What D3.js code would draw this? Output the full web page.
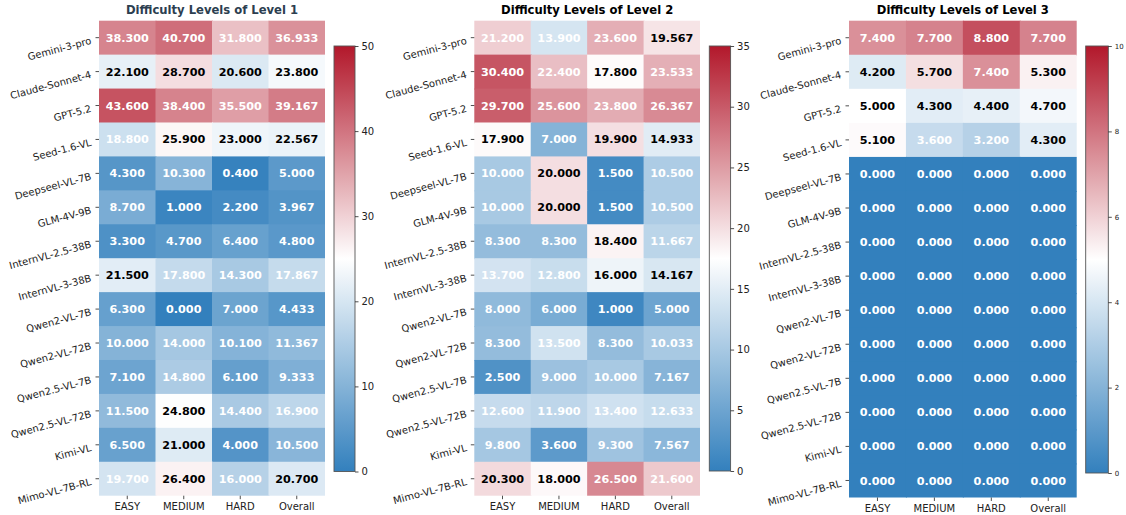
<!DOCTYPE html>
<html>
<head>
<meta charset="utf-8">
<script src="https://cdn.jsdelivr.net/npm/d3@7"></script>
<style>
  html, body { margin: 0; padding: 0; background: #ffffff; }
  svg { display: block; }
  text { font-family: "DejaVu Sans", sans-serif; }
</style>
</head>
<body>
<svg id="chart" width="1126" height="515"></svg>
<script>
// ---------- DATA ----------
const models = ["Gemini-3-pro", "Claude-Sonnet-4", "GPT-5.2", "Seed-1.6-VL", "Deepseel-VL-7B",
  "GLM-4V-9B", "InternVL-2.5-38B", "InternVL-3-38B", "Qwen2-VL-7B", "Qwen2-VL-72B",
  "Qwen2.5-VL-7B", "Qwen2.5-VL-72B", "Kimi-VL", "Mimo-VL-7B-RL"];
const difficulties = ["EASY", "MEDIUM", "HARD", "Overall"];

const level1 = [
  [38.3, 40.7, 31.8, 36.933],
  [22.1, 28.7, 20.6, 23.8],
  [43.6, 38.4, 35.5, 39.167],
  [18.8, 25.9, 23.0, 22.567],
  [4.3, 10.3, 0.4, 5.0],
  [8.7, 1.0, 2.2, 3.967],
  [3.3, 4.7, 6.4, 4.8],
  [21.5, 17.8, 14.3, 17.867],
  [6.3, 0.0, 7.0, 4.433],
  [10.0, 14.0, 10.1, 11.367],
  [7.1, 14.8, 6.1, 9.333],
  [11.5, 24.8, 14.4, 16.9],
  [6.5, 21.0, 4.0, 10.5],
  [19.7, 26.4, 16.0, 20.7]
];
const level2 = [
  [21.2, 13.9, 23.6, 19.567],
  [30.4, 22.4, 17.8, 23.533],
  [29.7, 25.6, 23.8, 26.367],
  [17.9, 7.0, 19.9, 14.933],
  [10.0, 20.0, 1.5, 10.5],
  [10.0, 20.0, 1.5, 10.5],
  [8.3, 8.3, 18.4, 11.667],
  [13.7, 12.8, 16.0, 14.167],
  [8.0, 6.0, 1.0, 5.0],
  [8.3, 13.5, 8.3, 10.033],
  [2.5, 9.0, 10.0, 7.167],
  [12.6, 11.9, 13.4, 12.633],
  [9.8, 3.6, 9.3, 7.567],
  [20.3, 18.0, 26.5, 21.6]
];
const level3 = [
  [7.4, 7.7, 8.8, 7.7],
  [4.2, 5.7, 7.4, 5.3],
  [5.0, 4.3, 4.4, 4.7],
  [5.1, 3.6, 3.2, 4.3],
  [0, 0, 0, 0],
  [0, 0, 0, 0],
  [0, 0, 0, 0],
  [0, 0, 0, 0],
  [0, 0, 0, 0],
  [0, 0, 0, 0],
  [0, 0, 0, 0],
  [0, 0, 0, 0],
  [0, 0, 0, 0],
  [0, 0, 0, 0]
];
const titles = ["Difficulty Levels of Level 1", "Difficulty Levels of Level 2", "Difficulty Levels of Level 3"];
const colorMax = [50, 35, 10];
const colorbarTicks = [
  [0, 10, 20, 30, 40, 50],
  [0, 5, 10, 15, 20, 25, 30, 35],
  [0, 2, 4, 6, 8, 10]
];

// ---------- LAYOUT / STYLE ----------
const layout = [
  { x0: 99, x1: 325, y0: 20.7, y1: 495.7, cbX: 334, cbW: 21, cbY0: 46, cbY1: 471.5, cbFont: 10, titleColor: "#2c3e50" },
  { x0: 474.3, x1: 700, y0: 20.7, y1: 495.7, cbX: 709.3, cbW: 21.3, cbY0: 46, cbY1: 471, cbFont: 10, titleColor: "#000000" },
  { x0: 849, x1: 1076.7, y0: 20.7, y1: 497.5, cbX: 1085.7, cbW: 22.6, cbY0: 46, cbY1: 473, cbFont: 7, titleColor: "#000000" }
];
const colorLow = "#3380bd", colorMid = "#ffffff", colorHigh = "#b2182b";
const datasets = [level1, level2, level3];

const svg = d3.select("#chart");
const defs = svg.append("defs");

datasets.forEach((data, p) => {
  const L = layout[p];
  const vmax = colorMax[p];
  const color = d3.scaleLinear().domain([0, vmax / 2, vmax]).range([colorLow, colorMid, colorHigh]).interpolate(d3.interpolateRgb).clamp(true);

  const x = d3.scaleBand().domain(difficulties).range([L.x0, L.x1]).padding(0);
  const y = d3.scaleBand().domain(models).range([L.y0, L.y1]).padding(0);

  const g = svg.append("g");

  const cells = [];
  data.forEach((row, i) => row.forEach((v, j) => cells.push({ m: models[i], d: difficulties[j], i, j, v })));

  g.selectAll("rect.cell").data(cells).join("rect")
    .attr("class", "cell")
    .attr("x", d => x(d.d))
    .attr("y", d => y(d.m))
    .attr("width", d => x.bandwidth() + (d.j < difficulties.length - 1 ? 1 : 0))
    .attr("height", d => y.bandwidth() + (d.i < models.length - 1 ? 1 : 0))
    .attr("fill", d => color(d.v));

  g.selectAll("text.val").data(cells).join("text")
    .attr("class", "val")
    .attr("x", d => x(d.d) + x.bandwidth() / 2)
    .attr("y", d => y(d.m) + y.bandwidth() / 2)
    .attr("dy", "0.36em")
    .attr("text-anchor", "middle")
    .attr("font-size", "11.2px")
    .attr("font-weight", "bold")
    .attr("fill", d => Math.abs(d.v / vmax - 0.5) > 0.1 ? "#ffffff" : "#000000")
    .text(d => d3.format(".3f")(d.v));

  // x axis
  const xAxis = d3.axisBottom(x).tickSize(3.5).tickPadding(3.5);
  const xg = g.append("g").attr("transform", `translate(0,${L.y1})`).call(xAxis);
  xg.select(".domain").remove();
  xg.selectAll("text").attr("font-size", "10px").attr("fill", "#222").attr("font-family", "DejaVu Sans");
  xg.selectAll("line").attr("stroke", "#222").attr("stroke-width", 0.8);

  // y axis
  const yAxis = d3.axisLeft(y).tickSize(3.5).tickPadding(3.5);
  const yg = g.append("g").attr("transform", `translate(${L.x0},0)`).call(yAxis);
  yg.select(".domain").remove();
  yg.selectAll("line").attr("stroke", "#222").attr("stroke-width", 0.8);
  yg.selectAll("text")
    .attr("font-size", "10px").attr("fill", "#222").attr("font-family", "DejaVu Sans")
    .attr("x", null).attr("dy", null)
    .attr("text-anchor", "end")
    .attr("transform", "translate(-7,6) rotate(-15)");

  // title
  svg.append("text")
    .attr("x", (L.x0 + L.x1) / 2)
    .attr("y", 14)
    .attr("text-anchor", "middle")
    .attr("font-size", "11.6px")
    .attr("font-weight", "bold")
    .attr("fill", L.titleColor)
    .text(titles[p]);

  // colorbar
  const gid = "grad" + p;
  const grad = defs.append("linearGradient").attr("id", gid)
    .attr("x1", 0).attr("y1", 1).attr("x2", 0).attr("y2", 0);
  d3.range(0, 1.0001, 0.05).forEach(t => {
    grad.append("stop").attr("offset", t).attr("stop-color", color(t * vmax));
  });
  const cbScale = d3.scaleLinear().domain([0, vmax]).range([L.cbY1, L.cbY0]);
  svg.append("rect")
    .attr("x", L.cbX).attr("y", L.cbY0)
    .attr("width", L.cbW).attr("height", L.cbY1 - L.cbY0)
    .attr("fill", `url(#${gid})`)
    .attr("stroke", "#555").attr("stroke-width", 0.9);
  const cbAxis = d3.axisRight(cbScale).tickValues(colorbarTicks[p]).tickSize(3.5).tickPadding(3).tickFormat(d3.format("d"));
  const cg = svg.append("g").attr("transform", `translate(${L.cbX + L.cbW},0)`).call(cbAxis);
  cg.select(".domain").remove();
  cg.selectAll("line").attr("stroke", "#222").attr("stroke-width", 0.8);
  cg.selectAll("text").attr("font-size", L.cbFont + "px").attr("fill", "#222").attr("font-family", "DejaVu Sans");
});
</script>
</body>
</html>
